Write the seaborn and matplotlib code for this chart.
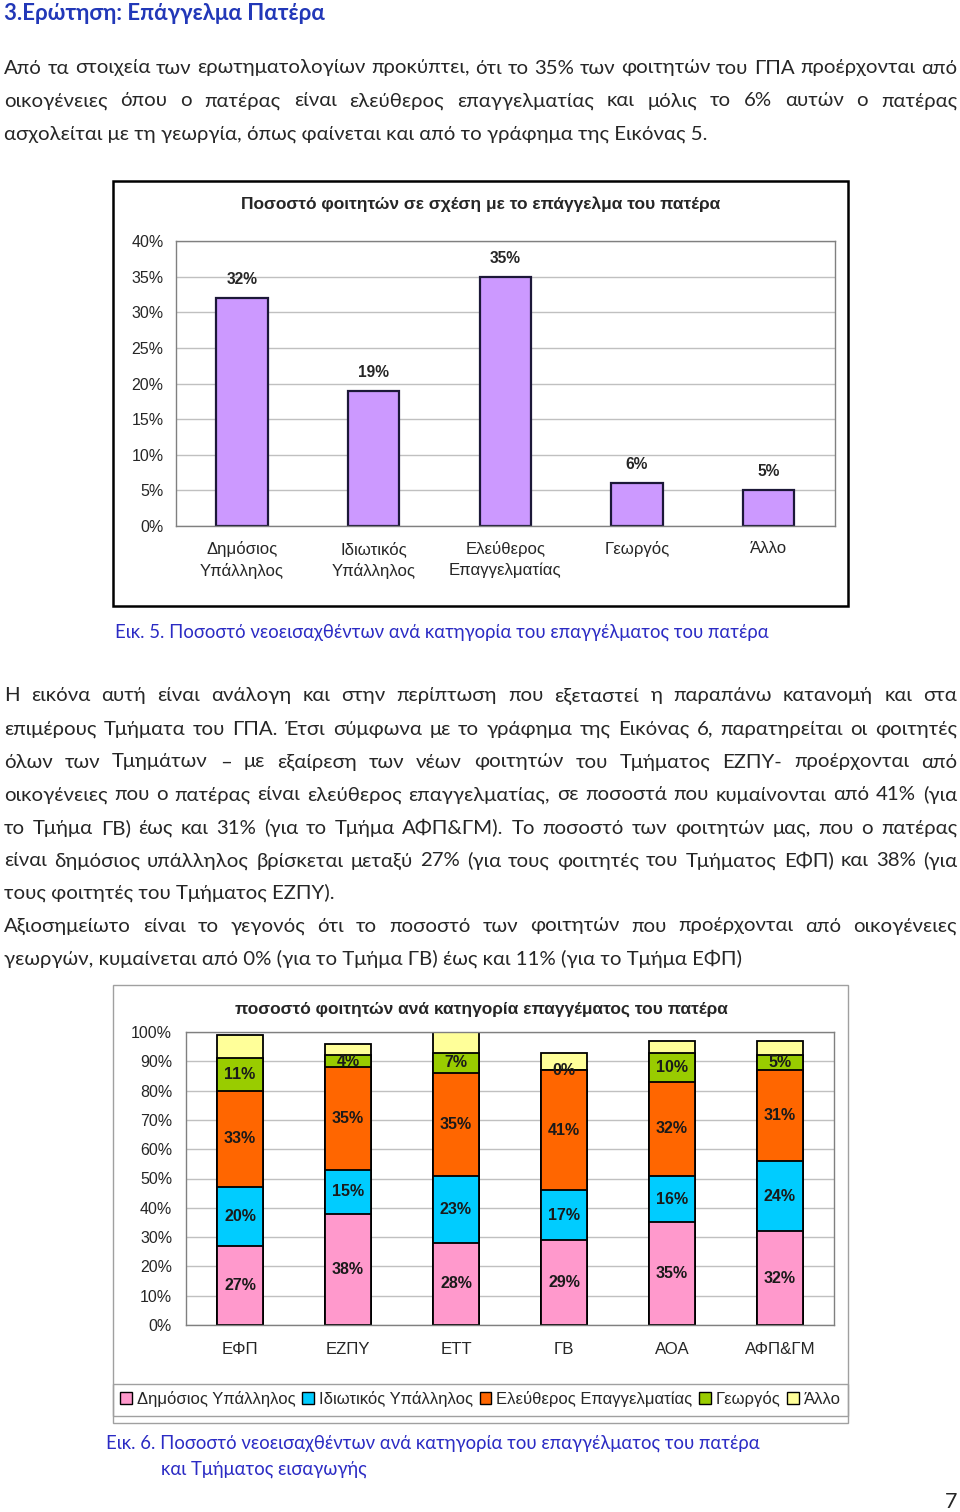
import numpy as np
import pandas as pd
import matplotlib
matplotlib.use("Agg")
import matplotlib.pyplot as plt
import seaborn as sns
from matplotlib.patches import Rectangle, Patch

# ---------------- data ----------------
occupations = ["Δημόσιος Υπάλληλος", "Ιδιωτικός Υπάλληλος", "Ελεύθερος Επαγγελματίας", "Γεωργός", "Άλλο"]
occ_tick_labels = ["Δημόσιος\nΥπάλληλος", "Ιδιωτικός\nΥπάλληλος", "Ελεύθερος\nΕπαγγελματίας", "Γεωργός", "Άλλο"]
overall_pct = [32, 19, 35, 6, 5]

departments = ["ΕΦΠ", "ΕΖΠΥ", "ΕΤΤ", "ΓΒ", "ΑΟΑ", "ΑΦΠ&ΓΜ"]
dimosios = [27, 38, 28, 29, 35, 32]
idiotikos = [20, 15, 23, 17, 16, 24]
eleftheros = [33, 35, 35, 41, 32, 31]
georgos = [11, 4, 7, 0, 10, 5]
allo = [8, 4, 7, 6, 4, 5]          # unlabeled segment, estimated from heights

y_ticks1 = [0, 5, 10, 15, 20, 25, 30, 35, 40]
y_ticks2 = [0, 10, 20, 30, 40, 50, 60, 70, 80, 90, 100]

layer_colors = ["#FF99CC", "#00CCFF", "#FF6600", "#99CC00", "#FFFF99"]

heading = "3.Ερώτηση: Επάγγελμα Πατέρα"
para1 = [
    ("Από τα στοιχεία των ερωτηματολογίων προκύπτει, ότι το 35% των φοιτητών του ΓΠΑ προέρχονται από", True),
    ("οικογένειες όπου ο πατέρας είναι ελεύθερος επαγγελματίας και μόλις το 6% αυτών ο πατέρας", True),
    ("ασχολείται με τη γεωργία, όπως φαίνεται και από το γράφημα της Εικόνας 5.", False),
]
para2 = [
    ("Η εικόνα αυτή είναι ανάλογη και στην περίπτωση που εξεταστεί η παραπάνω κατανομή και στα", True),
    ("επιμέρους Τμήματα του ΓΠΑ. Έτσι σύμφωνα με το γράφημα της Εικόνας 6, παρατηρείται οι φοιτητές", True),
    ("όλων των Τμημάτων – με εξαίρεση των νέων φοιτητών του Τμήματος ΕΖΠΥ- προέρχονται από", True),
    ("οικογένειες που ο πατέρας είναι ελεύθερος επαγγελματίας, σε ποσοστά που κυμαίνονται από 41% (για", True),
    ("το Τμήμα ΓΒ) έως και 31% (για το Τμήμα ΑΦΠ&ΓΜ). Το ποσοστό των φοιτητών μας, που ο πατέρας", True),
    ("είναι δημόσιος υπάλληλος βρίσκεται μεταξύ 27% (για τους φοιτητές του Τμήματος ΕΦΠ) και 38% (για", True),
    ("τους φοιτητές του Τμήματος ΕΖΠΥ).", False),
    ("Αξιοσημείωτο είναι το γεγονός ότι το ποσοστό των φοιτητών που προέρχονται από οικογένειες", True),
    ("γεωργών, κυμαίνεται από 0% (για το Τμήμα ΓΒ) έως και 11% (για το Τμήμα ΕΦΠ)", False),
]
title1 = "Ποσοστό φοιτητών σε σχέση με το επάγγελμα του πατέρα"
title2 = "ποσοστό φοιτητών ανά κατηγορία επαγγέματος του πατέρα"
caption5 = "Εικ. 5. Ποσοστό νεοεισαχθέντων ανά κατηγορία του επαγγέλματος του πατέρα"
caption6 = ["Εικ. 6. Ποσοστό νεοεισαχθέντων ανά κατηγορία του επαγγέλματος του πατέρα",
            "και Τμήματος εισαγωγής"]
page_no = "7"

# ---------------- setup ----------------
sns.set_style("white")
BODY = ["Lato", "Open Sans", "DejaVu Sans"]
CHART = ["Liberation Sans", "DejaVu Sans"]
plt.rcParams["font.family"] = CHART

W, H = 960, 1512
fig = plt.figure(figsize=(W / 100, H / 100), dpi=100)
fig.patch.set_facecolor("white")
renderer = fig.canvas.get_renderer()


def fx(x):
    return x / W


def fy(y):
    return 1 - y / H


def text_width(s, size, family, weight="normal"):
    t = fig.text(0, 0, s, fontsize=size, family=family, weight=weight)
    w = t.get_window_extent(renderer).width
    t.remove()
    return w


def fit(s, target, family, weight="normal"):
    return 10 * target / text_width(s, 10, family, weight)


body_size = 0.5 * (fit(para1[2][0], 707, BODY) + fit(para2[8][0], 737, BODY))
head_size = fit(heading, 321, BODY, "bold")
cap_size = fit(caption5, 656, BODY)
tick_size = fit("Δημόσιος", 71, CHART)
ytick_size = fit("100%", 41, CHART)
lbl1_size = fit("32%", 31, CHART, "bold")
lbl2_size = fit("27%", 32, CHART, "bold")
leg_size = fit("Δημόσιος Υπάλληλος", 158, CHART)
t1_size = fit(title1, 477, CHART, "bold")
t2_size = fit(title2, 492, CHART, "bold")


def body_line(s, y, justify, x0=4, x1=957):
    if not justify:
        fig.text(fx(x0), fy(y), s, fontsize=body_size, family=BODY, va="center", ha="left")
        return
    words = s.split(" ")
    widths = [text_width(w, body_size, BODY) for w in words]
    gap = (x1 - x0 - sum(widths)) / (len(words) - 1)
    x = x0
    for w, wd in zip(words, widths):
        fig.text(fx(x), fy(y), w, fontsize=body_size, family=BODY, va="center", ha="left")
        x += wd + gap


# heading and paragraphs
fig.text(fx(4), fy(14), heading, fontsize=head_size, family=BODY, weight="bold",
         color="#2238B8", va="center", ha="left")
for (s, j), y in zip(para1, [68, 101, 134]):
    body_line(s, y, j)
for (s, j), y in zip(para2, [696, 729, 762, 795, 828, 861, 893, 926, 959]):
    body_line(s, y, j)

# ---------------- chart 1 ----------------
fig.add_artist(Rectangle((fx(113), fy(606)), fx(848) - fx(113), fy(181) - fy(606),
                         transform=fig.transFigure, fill=False, edgecolor="black", lw=1.8))
ax1 = fig.add_axes([fx(176), fy(526), fx(834.5) - fx(176), fy(241) - fy(526)])
df1 = pd.DataFrame({"occ": occupations, "pct": overall_pct})
sns.barplot(data=df1, x="occ", y="pct", color="#CC99FF", saturation=1, width=0.39,
            edgecolor="#1C1838", linewidth=1.6, ax=ax1)
ax1.set_xlim(-0.5, len(occupations) - 0.5)
ax1.set_ylim(0, 40)
ax1.set_yticks(y_ticks1)
ax1.set_yticklabels([f"{v}%" for v in y_ticks1], fontsize=ytick_size)
ax1.set_xticks(range(len(occupations)))
ax1.set_xticklabels(occ_tick_labels, fontsize=tick_size, linespacing=1.45)
ax1.set_xticks(np.arange(-0.5, len(occupations)), minor=True)
ax1.tick_params(axis="x", which="major", length=0, pad=11)
ax1.tick_params(axis="x", which="minor", length=5, color="#808080", direction="out")
ax1.tick_params(axis="y", length=5, color="#808080", direction="out", pad=4)
ax1.yaxis.grid(True, color="#C0C0C0", lw=1)
ax1.set_axisbelow(True)
for sp in ax1.spines.values():
    sp.set_color("#808080")
    sp.set_linewidth(1)
ax1.set_xlabel("")
ax1.set_ylabel("")
ax1.bar_label(ax1.containers[0], labels=[f"{v}%" for v in overall_pct], padding=8,
              fontsize=lbl1_size, fontweight="bold")
fig.text(fx(481), fy(204), title1, fontsize=t1_size, weight="bold", family=CHART,
         ha="center", va="center")
fig.text(fx(115), fy(632), caption5, fontsize=cap_size, family=BODY, color="#2B2BC4",
         ha="left", va="center")

# ---------------- chart 2 ----------------
fig.add_artist(Rectangle((fx(113), fy(1423)), fx(848) - fx(113), fy(985) - fy(1423),
                         transform=fig.transFigure, fill=False, edgecolor="#A0A0A0", lw=1))
fig.add_artist(Rectangle((fx(113), fy(1416)), fx(848) - fx(113), fy(1384) - fy(1416),
                         transform=fig.transFigure, fill=False, edgecolor="#A0A0A0", lw=1))
ax2 = fig.add_axes([fx(186), fy(1325), fx(834) - fx(186), fy(1032) - fy(1325)])
layers = [dimosios, idiotikos, eleftheros, georgos, allo]
cum = np.cumsum(np.array(layers, dtype=float), axis=0)
for i in range(len(layers) - 1, -1, -1):
    dfl = pd.DataFrame({"dept": departments, "cum": cum[i]})
    sns.barplot(data=dfl, x="dept", y="cum", color=layer_colors[i], saturation=1,
                width=0.42, edgecolor="black", linewidth=1.3, ax=ax2)
ax2.set_xlim(-0.5, len(departments) - 0.5)
ax2.set_ylim(0, 100)
ax2.set_yticks(y_ticks2)
ax2.set_yticklabels([f"{v}%" for v in y_ticks2], fontsize=ytick_size)
ax2.set_xticks(range(len(departments)))
ax2.set_xticklabels(departments, fontsize=tick_size)
ax2.set_xticks(np.arange(-0.5, len(departments)), minor=True)
ax2.tick_params(axis="x", which="major", length=0, pad=12)
ax2.tick_params(axis="x", which="minor", length=5, color="#808080", direction="out")
ax2.tick_params(axis="y", length=5, color="#808080", direction="out", pad=5)
ax2.yaxis.grid(True, color="#C0C0C0", lw=1)
ax2.set_axisbelow(True)
for sp in ax2.spines.values():
    sp.set_color("#808080")
    sp.set_linewidth(1)
ax2.set_xlabel("")
ax2.set_ylabel("")
for i in range(4):
    base = cum[i] - np.array(layers[i])
    for j, v in enumerate(layers[i]):
        ax2.text(j, base[j] + v / 2, f"{v}%", ha="center", va="center",
                 fontsize=lbl2_size, fontweight="bold", color="#1A1A1A", family=CHART)
fig.text(fx(481), fy(1009), title2, fontsize=t2_size, weight="bold", family=CHART,
         ha="center", va="center")
handles = [Patch(facecolor=c, edgecolor="black", lw=1) for c in layer_colors]
fig.legend(handles, occupations, loc="center", bbox_to_anchor=(fx(480.5), fy(1399)),
           ncol=5, frameon=False, prop={"family": CHART, "size": leg_size},
           handlelength=0.7, handleheight=0.7, handletextpad=0.3, columnspacing=0.4,
           borderpad=0)
fig.text(fx(106), fy(1443), caption6[0], fontsize=cap_size, family=BODY, color="#2B2BC4",
         ha="left", va="center")
fig.text(fx(161), fy(1469), caption6[1], fontsize=cap_size, family=BODY, color="#2B2BC4",
         ha="left", va="center")
fig.text(fx(957), fy(1502), page_no, fontsize=body_size * 1.05, family=BODY,
         ha="right", va="center")

fig.savefig("out.png", dpi=100, facecolor="white")
